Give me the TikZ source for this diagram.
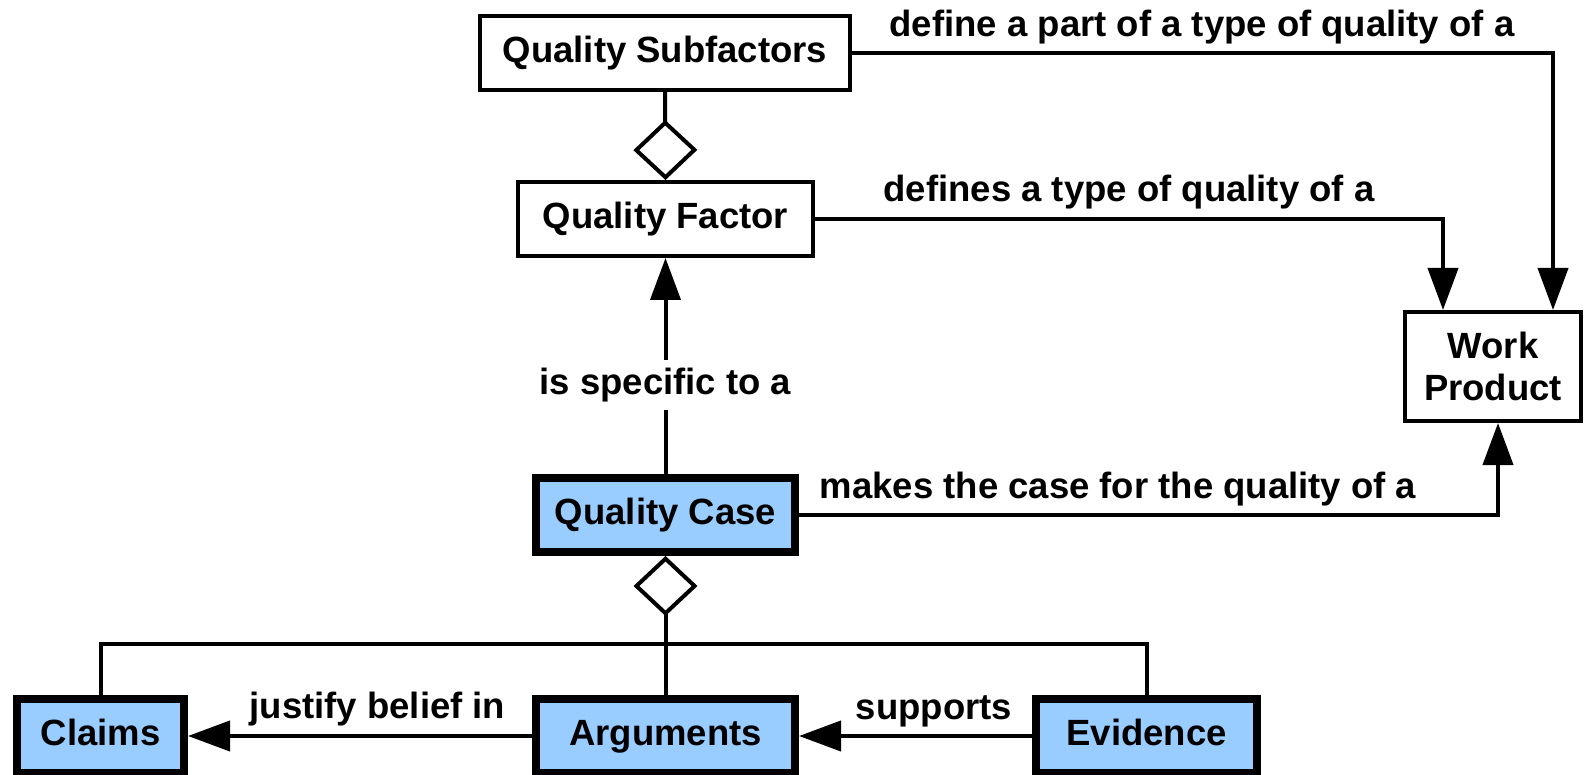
\documentclass[tikz,border=0pt]{standalone}
\usepackage{fontspec}
\setmainfont{Liberation Sans}
\usetikzlibrary{arrows.meta,calc}
\definecolor{boxblue}{RGB}{153,204,255}
\begin{document}
\begin{tikzpicture}[x=1pt,y=-1pt,
  every node/.style={font=\fontsize{36.5}{42}\selectfont\bfseries},
  box/.style={draw, line width=4pt, fill=white, minimum height=74pt, inner sep=0pt, text height=26.5pt, text depth=7.5pt},
  casebox/.style={box, line width=8pt, fill=boxblue},
  conn/.style={line width=4pt},
  arr/.style={conn, -{Triangle[length=42pt,width=30pt]}},
  agg/.style={conn, {Diamond[open,length=60pt,width=64pt]}-},
  lbl/.style={anchor=base, inner sep=0pt}
]
\useasboundingbox (0,0) rectangle (1585,775);

\node[box, minimum width=370pt] (qs) at (665,53) {Quality Subfactors};
\node[box, minimum width=295pt] (qf) at (665.5,219) {Quality Factor};
\node[draw, line width=4pt, fill=white, minimum width=176pt, minimum height=109pt, inner sep=0pt, align=center] (wp) at (1493,366.5) {Work\\Product};
\node[casebox, minimum width=259pt] (qc) at (665.5,515) {Quality Case};
\node[casebox, minimum width=167pt] (cl) at (100.5,736) {Claims};
\node[casebox, minimum width=259pt] (arg) at (665.5,736) {Arguments};
\node[casebox, minimum width=221pt] (ev) at (1146.5,736) {Evidence};

\coordinate (bus) at (665.5,644);

\draw[arr] (qs.east) -| ($(wp.north)+(60,0)$);
\draw[arr] (qf.east) -| ($(wp.north)+(-50,0)$);
\draw[arr] (qc.east) -| ($(wp.south)+(5,0)$);

\draw[agg] (qf.north) -- (qs.south);
\draw[agg] (qc.south) -- (arg.north);
\draw[arr] (qc.north) -- node[pos=0.41, fill=white, inner xsep=4pt, inner ysep=8pt, text height=26.5pt, text depth=7.5pt] (lis) {is specific to a} (qf.south);

\draw[conn] (cl.north) |- (bus) -| (ev.north);

\draw[arr] (arg.west) -- (cl.east);
\draw[arr] (ev.west) -- (arg.east);

\node[lbl] (l1) at (1202,37) {define a part of a type of quality of a};
\node[lbl] (l2) at (1129,202) {defines a type of quality of a};
\node[lbl] (l3) at (1118,498) {makes the case for the quality of a};
\node[lbl] (l4) at (377.5,718) {justify belief in};
\node[lbl] (l5) at (934,719) {supports};
\end{tikzpicture}
\end{document}
